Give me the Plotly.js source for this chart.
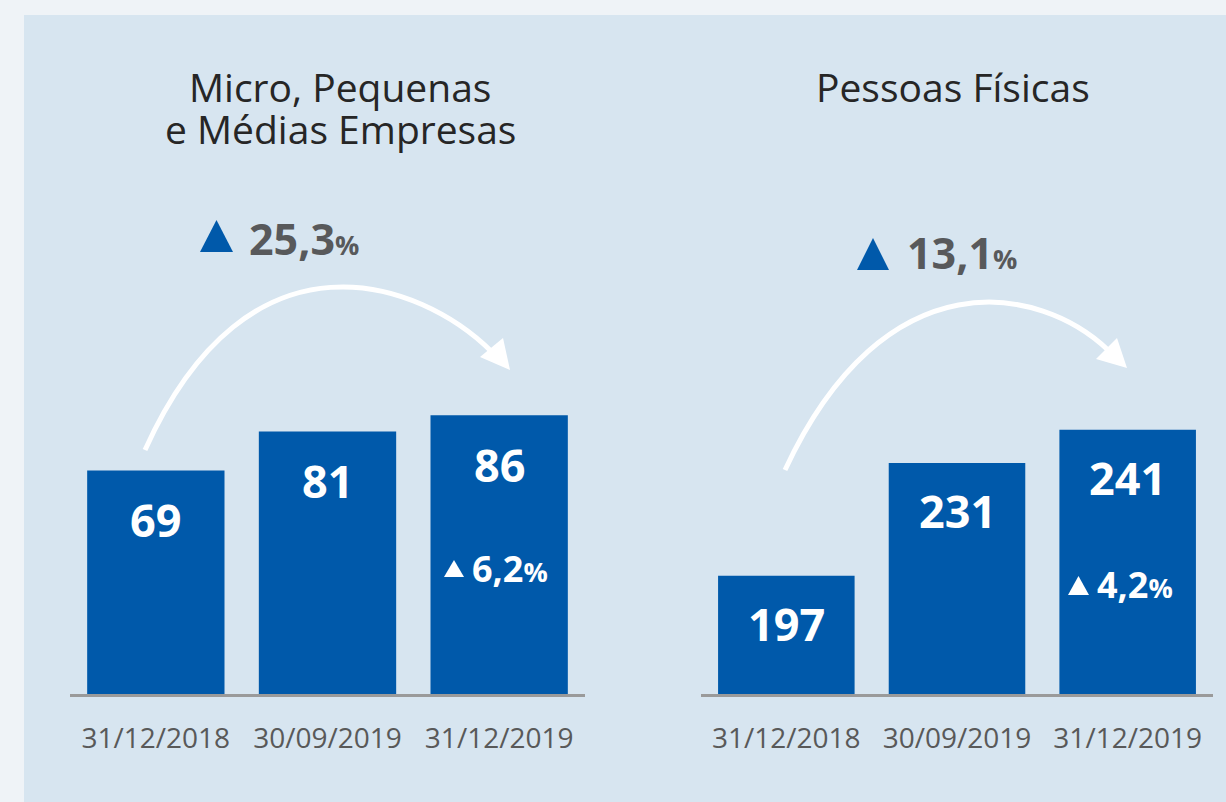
<!DOCTYPE html>
<html>
<head>
<meta charset="utf-8">
<script src="https://cdn.plot.ly/plotly-3.0.1.min.js"></script>
<style>html,body{margin:0;padding:0;background:#eff3f7;}#chart{width:1226px;height:802px;}</style>
</head>
<body>
<div id="chart"></div>
<script>
// ---- data ----
const dates = ['31/12/2018', '30/09/2019', '31/12/2019'];
const pmeValues = [69, 81, 86];
const pfValues = [197, 231, 241];
const pmeTitle = ['Micro, Pequenas', 'e Médias Empresas'];
const pfTitle = 'Pessoas Físicas';
const yoyChange = ['25,3', '13,1'];   // 31/12/2018 -> 31/12/2019
const qoqChange = ['6,2', '4,2'];     // 30/09/2019 -> 31/12/2019

// ---- helpers (pixel -> paper) ----
const W = 1226, H = 802;
const px = x => x / W;
const py = y => 1 - y / H;
const P = (x, y) => px(x).toFixed(5) + ',' + py(y).toFixed(5);

const BLUE = '#0059aa';
const FONT = 'Open Sans, Noto Sans, sans-serif';

const traces = [
  {type: 'bar', x: dates, y: pmeValues, xaxis: 'x', yaxis: 'y',
   marker: {color: BLUE}, hoverinfo: 'skip', showlegend: false},
  {type: 'bar', x: dates, y: pfValues, xaxis: 'x2', yaxis: 'y2',
   marker: {color: BLUE}, hoverinfo: 'skip', showlegend: false}
];

const annotations = [];
// value labels inside bars
pmeValues.forEach((v, i) => annotations.push({
  xref: 'x', yref: 'y', x: dates[i], y: v, yanchor: 'middle', yshift: -49,
  text: '<b>' + v + '</b>', showarrow: false,
  font: {family: FONT, size: 45, color: '#ffffff'}
}));
pfValues.forEach((v, i) => annotations.push({
  xref: 'x2', yref: 'y2', x: dates[i], y: v, yanchor: 'middle', yshift: -48,
  text: '<b>' + v + '</b>', showarrow: false,
  font: {family: FONT, size: 45, color: '#ffffff'}
}));
// titles
annotations.push({xref: 'paper', yref: 'paper', x: px(340), y: py(87), text: pmeTitle[0],
  showarrow: false, xanchor: 'center', yanchor: 'middle', font: {family: FONT, size: 39, color: '#262626'}});
annotations.push({xref: 'paper', yref: 'paper', x: px(340), y: py(128), text: pmeTitle[1],
  showarrow: false, xanchor: 'center', yanchor: 'middle', font: {family: FONT, size: 39, color: '#262626'}});
annotations.push({xref: 'paper', yref: 'paper', x: px(953), y: py(87), text: pfTitle,
  showarrow: false, xanchor: 'center', yanchor: 'middle', font: {family: FONT, size: 39, color: '#262626'}});
// year-over-year change
annotations.push({xref: 'paper', yref: 'paper', x: px(247), y: py(238), xanchor: 'left', yanchor: 'middle',
  text: '<b>' + yoyChange[0] + '</b><span style="font-size:27px"><b>%</b></span>', showarrow: false,
  font: {family: FONT, size: 43, color: '#58595b'}});
annotations.push({xref: 'paper', yref: 'paper', x: px(905), y: py(253), xanchor: 'left', yanchor: 'middle',
  text: '<b>' + yoyChange[1] + '</b><span style="font-size:27px"><b>%</b></span>', showarrow: false,
  font: {family: FONT, size: 43, color: '#58595b'}});
// quarter-over-quarter change (inside last bars)
annotations.push({xref: 'paper', yref: 'paper', x: px(470), y: py(568), xanchor: 'left', yanchor: 'middle',
  text: '<b>' + qoqChange[0] + '</b><span style="font-size:27px"><b>%</b></span>', showarrow: false,
  font: {family: FONT, size: 36, color: '#ffffff'}});
annotations.push({xref: 'paper', yref: 'paper', x: px(1095), y: py(584), xanchor: 'left', yanchor: 'middle',
  text: '<b>' + qoqChange[1] + '</b><span style="font-size:27px"><b>%</b></span>', showarrow: false,
  font: {family: FONT, size: 36, color: '#ffffff'}});

const shapes = [
  // panel
  {type: 'rect', xref: 'paper', yref: 'paper', x0: px(24), x1: 1, y0: 0, y1: py(15),
   fillcolor: '#d7e5f0', line: {width: 0}, layer: 'below'},
  // arcs
  {type: 'path', xref: 'paper', yref: 'paper', layer: 'above',
   path: 'M' + P(145, 450) + ' C' + P(249, 219) + ' ' + P(420, 280) + ' ' + P(492, 352),
   line: {color: '#ffffff', width: 5}, fillcolor: 'rgba(0,0,0,0)'},
  {type: 'path', xref: 'paper', yref: 'paper', layer: 'above',
   path: 'M' + P(510, 370) + ' L' + P(480, 357) + ' L' + P(503, 338) + ' Z',
   line: {width: 0}, fillcolor: '#ffffff'},
  {type: 'path', xref: 'paper', yref: 'paper', layer: 'above',
   path: 'M' + P(785, 470) + ' C' + P(885, 255) + ' ' + P(1040, 285) + ' ' + P(1108, 350),
   line: {color: '#ffffff', width: 5}, fillcolor: 'rgba(0,0,0,0)'},
  {type: 'path', xref: 'paper', yref: 'paper', layer: 'above',
   path: 'M' + P(1127, 368) + ' L' + P(1096, 359) + ' L' + P(1117, 338) + ' Z',
   line: {width: 0}, fillcolor: '#ffffff'},
  // blue triangles
  {type: 'path', xref: 'paper', yref: 'paper', layer: 'above',
   path: 'M' + P(200, 252) + ' L' + P(233, 252) + ' L' + P(216.5, 220) + ' Z',
   line: {width: 0}, fillcolor: BLUE},
  {type: 'path', xref: 'paper', yref: 'paper', layer: 'above',
   path: 'M' + P(857, 270) + ' L' + P(889, 270) + ' L' + P(873, 238) + ' Z',
   line: {width: 0}, fillcolor: BLUE},
  // small white triangles
  {type: 'path', xref: 'paper', yref: 'paper', layer: 'above',
   path: 'M' + P(444, 577) + ' L' + P(464, 577) + ' L' + P(454, 560) + ' Z',
   line: {width: 0}, fillcolor: '#ffffff'},
  {type: 'path', xref: 'paper', yref: 'paper', layer: 'above',
   path: 'M' + P(1068, 595) + ' L' + P(1089, 595) + ' L' + P(1078.5, 576) + ' Z',
   line: {width: 0}, fillcolor: '#ffffff'}
];

const xaxisBase = {
  type: 'category', range: [-0.5, 2.5], fixedrange: true,
  showline: true, linewidth: 3, linecolor: '#9a9a9a', showgrid: false, zeroline: false,
  ticks: '', tickfont: {family: FONT, size: 28, color: '#595959'}, ticklabelstandoff: 17
};
const yBottom = (H - 694) / H;

const layout = {
  width: W, height: H,
  margin: {l: 0, r: 0, t: 0, b: 0},
  paper_bgcolor: '#eff3f7', plot_bgcolor: 'rgba(0,0,0,0)',
  bargap: 0.2, showlegend: false,
  xaxis: Object.assign({}, xaxisBase, {domain: [px(70), px(585)], anchor: 'y'}),
  xaxis2: Object.assign({}, xaxisBase, {domain: [px(701), px(1213)], anchor: 'y2'}),
  yaxis: {domain: [yBottom, 1], range: [0, 214.2], visible: false, fixedrange: true, anchor: 'x'},
  yaxis2: {domain: [yBottom, 1], range: [161.3, 370.6], visible: false, fixedrange: true, anchor: 'x2'},
  annotations: annotations,
  shapes: shapes
};

Plotly.newPlot('chart', traces, layout, {displayModeBar: false, staticPlot: true});
</script>
</body>
</html>
